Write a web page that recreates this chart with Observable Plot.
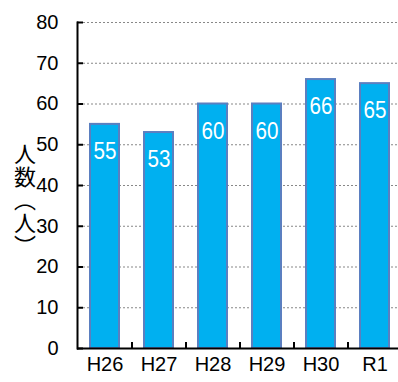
<!DOCTYPE html>
<html>
<head>
<meta charset="utf-8">
<script src="https://cdn.jsdelivr.net/npm/d3@7"></script>
<script src="https://cdn.jsdelivr.net/npm/@observablehq/plot@0.6"></script>
<style>
  html, body { margin: 0; padding: 0; background: #fff; }
</style>
</head>
<body>
<div id="chart"></div>
<script>
const categories = ["H26", "H27", "H28", "H29", "H30", "R1"];
const values = [55, 53, 60, 60, 66, 65];
const yTicks = [0, 10, 20, 30, 40, 50, 60, 70, 80];
const yLabel = "人数（人）";

const data = categories.map((c, i) => ({ year: c, count: values[i] }));

const W = 398, H = 382;
const mL = 77, mR = 0, mT = 22, mB = 34;
const frameW = W - mL - mR;

const chart = Plot.plot({
  width: W,
  height: H,
  marginLeft: mL,
  marginRight: mR,
  marginTop: mT,
  marginBottom: mB,
  style: { fontFamily: "'Liberation Sans', Arial, sans-serif", background: "#fff", overflow: "visible" },
  x: { domain: categories, range: [78, 402], paddingInner: 0.46, paddingOuter: 0.23, axis: null },
  y: { domain: [0, 80], axis: null },
  marks: [
    Plot.ruleY(yTicks.filter(d => d > 0), { y: d => d, stroke: "#888", strokeWidth: 1.2, strokeDasharray: "2,2", insetLeft: 6 }),
    Plot.barY(data, { x: "year", y: "count", fill: "#00B0F0", stroke: "#5B7FC0", strokeWidth: 2 }),
    Plot.ruleY(yTicks, { y: d => d, stroke: "#000", strokeWidth: 2, insetRight: frameW - 6 }),
    Plot.ruleX(categories.slice(1), { x: d => d, dx: -27, y1: 0, y2: 1.5, stroke: "#000", strokeWidth: 2 }),
    Plot.frame({ anchor: "left", stroke: "#000", strokeWidth: 2 }),
    Plot.ruleY([0], { stroke: "#000", strokeWidth: 2 }),
    Plot.text(data, { x: "year", y: "count", text: d => String(d.count), fill: "#fff", dy: 27, fontSize: 24, className: "barlbl" }),
    Plot.text(yTicks, { y: d => d, text: d => String(d), frameAnchor: "left", textAnchor: "end", dx: -19, fontSize: 20, fill: "#000" }),
    Plot.text(categories, { x: d => d, text: d => d, frameAnchor: "bottom", dy: 22, fontSize: 20, fill: "#000" })
  ]
});

const svg = d3.select(chart);
svg.selectAll(".barlbl text").each(function () {
  const t = this.getAttribute("transform") || "";
  this.setAttribute("transform", t + " scale(0.86,1)");
});

svg.append("text")
  .attr("x", 25)
  .attr("y", 143)
  .attr("text-anchor", "start")
  .attr("font-size", 22)
  .attr("font-family", "'Noto Sans CJK JP', sans-serif")
  .attr("fill", "#000")
  .style("writing-mode", "vertical-rl")
  .style("letter-spacing", "1px")
  .text(yLabel);

document.getElementById("chart").appendChild(chart);
</script>
</body>
</html>
